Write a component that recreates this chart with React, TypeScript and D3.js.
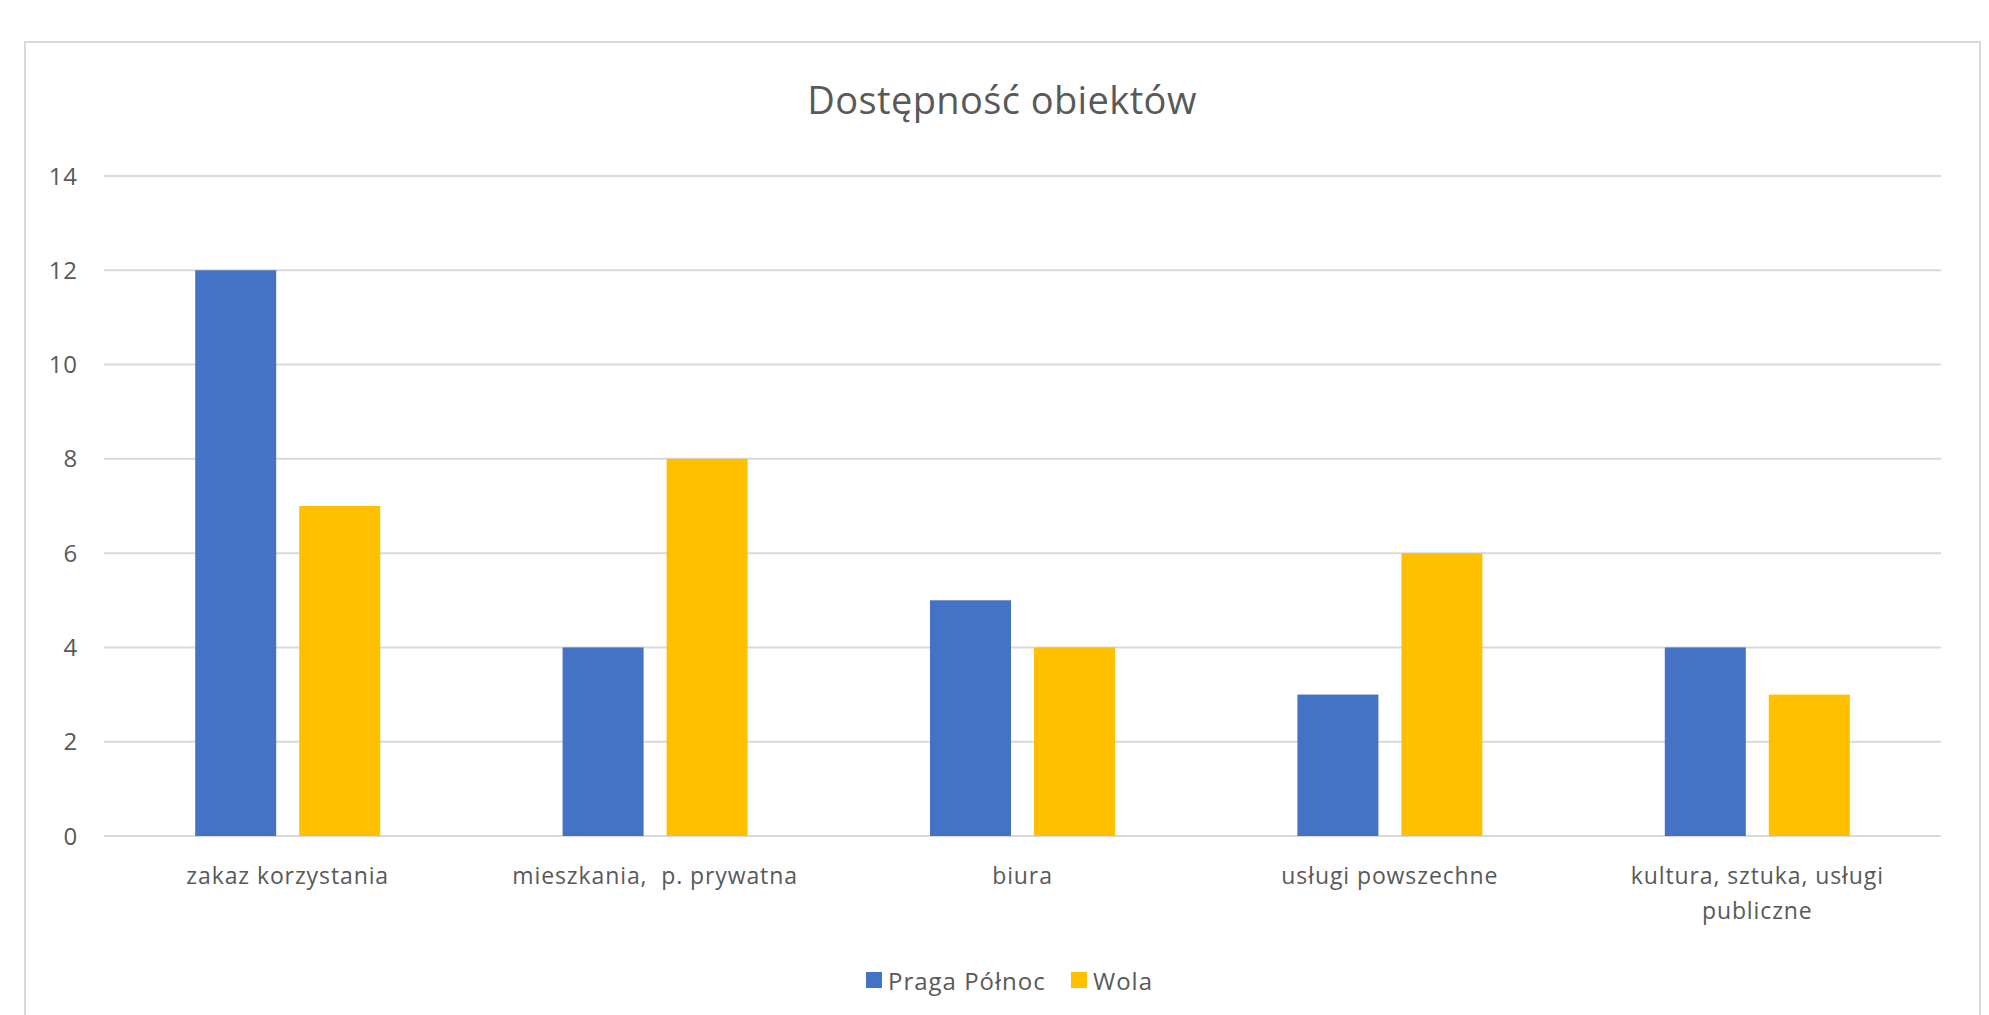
import React from "react";
import * as d3 from "d3";

const categories = [
  ["zakaz korzystania"],
  ["mieszkania,  p. prywatna"],
  ["biura"],
  ["usługi powszechne"],
  ["kultura, sztuka, usługi", "publiczne"],
];
const seriesNames = ["Praga Północ", "Wola"];
const pragaValues = [12, 4, 5, 3, 4];
const wolaValues = [7, 8, 4, 6, 3];
const yTicks = [0, 2, 4, 6, 8, 10, 12, 14];
const title = "Dostępność obiektów";
const colors = ["#4472C4", "#FFC000"];

const W = 1989;
const H = 1015;
const FONT = "'Open Sans', 'Noto Sans', sans-serif";
const TEXT = "#595959";
const GRID = "#D9D9D9";
const LS = 0.9;

export default function App() {
  const plotLeft = 104;
  const plotRight = 1941;
  const plotTop = 176;
  const plotBottom = 836;

  const x = d3
    .scaleBand<number>()
    .domain(categories.map((_, i) => i))
    .range([plotLeft, plotRight])
    .paddingInner(0)
    .paddingOuter(0);
  const y = d3.scaleLinear().domain([0, 14]).range([plotBottom, plotTop]);

  const band = x.bandwidth();
  const barW = band * 0.2205;
  const gap = band * 0.0626;

  const series = [pragaValues, wolaValues];

  return (
    <svg
      width={W}
      height={H}
      style={{ position: "absolute", left: 0, top: 0, background: "#fff" }}
      fontFamily={FONT}
    >
      <rect x={0} y={0} width={W} height={H} fill="#fff" />
      <path
        d={`M25,${H + 5} L25,42 L1980,42 L1980,${H + 5}`}
        fill="none"
        stroke={GRID}
        strokeWidth={2}
      />
      <text
        x={1002}
        y={114}
        textAnchor="middle"
        fontSize={38}
        letterSpacing={0.4}
        fill={TEXT}
      >
        {title}
      </text>

      {yTicks.map((t) => (
        <g key={t}>
          <line
            x1={plotLeft}
            x2={plotRight}
            y1={y(t)}
            y2={y(t)}
            stroke={GRID}
            strokeWidth={2}
          />
          <text
            x={78}
            y={y(t)}
            dy="0.36em"
            textAnchor="end"
            fontSize={24}
            letterSpacing={LS}
            fill={TEXT}
          >
            {t}
          </text>
        </g>
      ))}

      {categories.map((lines, i) => {
        const cx = (x(i) as number) + band / 2;
        return (
          <g key={i}>
            {series.map((vals, s) => {
              const bx = s === 0 ? cx - gap / 2 - barW : cx + gap / 2;
              return (
                <rect
                  key={s}
                  x={bx}
                  y={y(vals[i])}
                  width={barW}
                  height={y(0) - y(vals[i])}
                  fill={colors[s]}
                />
              );
            })}
            {lines.map((ln, k) => (
              <text
                key={k}
                x={cx}
                y={884 + k * 35}
                textAnchor="middle"
                fontSize={23}
                letterSpacing={LS}
                fill={TEXT}
                style={{ whiteSpace: "pre" }}
              >
                {ln}
              </text>
            ))}
          </g>
        );
      })}

      <g>
        <rect x={866} y={972} width={16} height={16} fill={colors[0]} />
        <text x={888} y={990} fontSize={24} letterSpacing={1} fill={TEXT}>
          {seriesNames[0]}
        </text>
        <rect x={1071} y={972} width={16} height={16} fill={colors[1]} />
        <text x={1093} y={990} fontSize={24} letterSpacing={1} fill={TEXT}>
          {seriesNames[1]}
        </text>
      </g>
    </svg>
  );
}
